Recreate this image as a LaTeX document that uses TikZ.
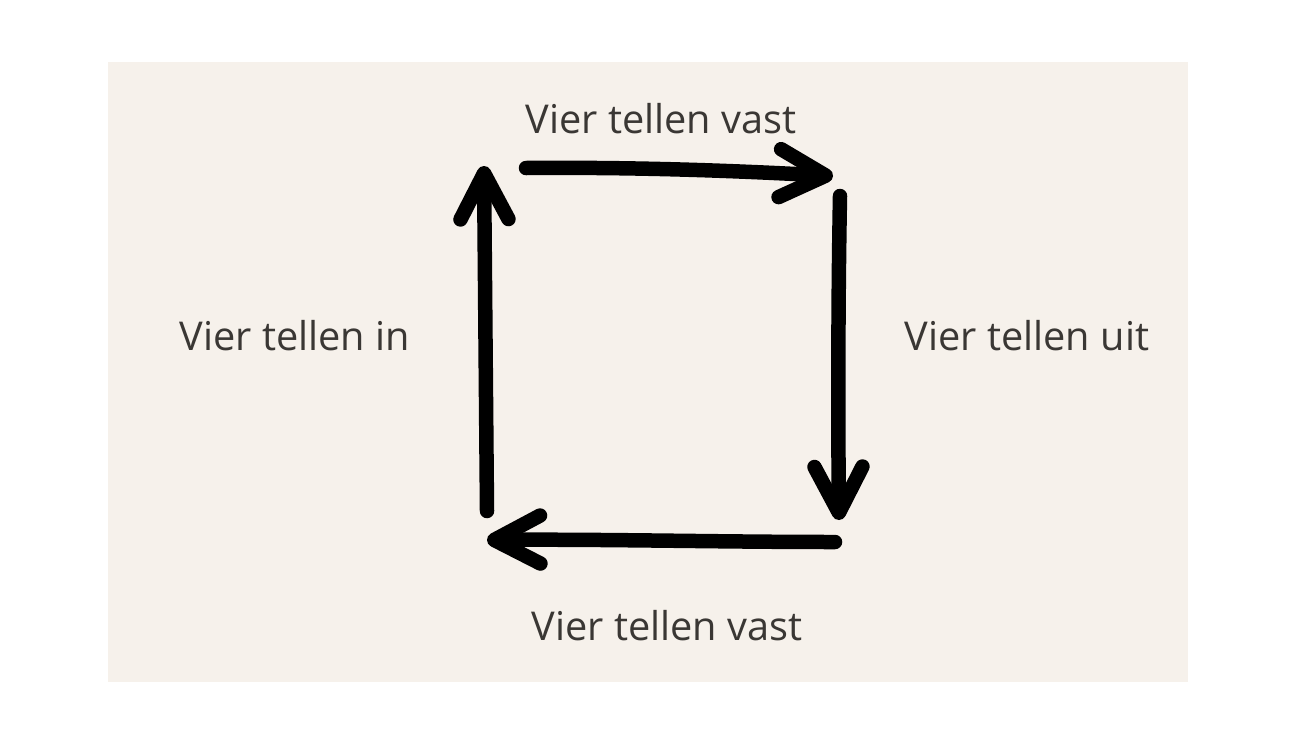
\documentclass[tikz,border=0pt]{standalone}
\usepackage{fontspec}
\setmainfont{Open Sans}
\usetikzlibrary{arrows.meta}
\definecolor{bg}{HTML}{F6F1EB}
\definecolor{txt}{HTML}{3A3734}
\tikzset{
  lbl/.style={anchor=base, inner sep=0pt, text=txt, font=\fontsize{39.7}{46}\selectfont},
  flow/.style={line width=14.5pt, line cap=round, line join=round,
    -{Straight Barb[length=46pt,width=48pt,round]}},
}
\begin{document}
\begin{tikzpicture}[x=1pt,y=-1pt]
\useasboundingbox (0,0) rectangle (1296,745);
\fill[bg] (108,62) rectangle (1188,682);
% labels
\node[lbl] (top) at (661,133) {Vier tellen vast};
\node[lbl] (bot) at (667,640) {Vier tellen vast};
\node[lbl] (left) at (295,350) {Vier tellen in};
\node[lbl] (right) at (1027,350) {Vier tellen uit};
% arrow end points
\coordinate (t1) at (526,168);
\coordinate (t2) at (833,176);
\coordinate (r1) at (840,196);
\coordinate (r2) at (839,520);
\coordinate (b1) at (835,542);
\coordinate (b2) at (487,540);
\coordinate (l1) at (487,511);
\coordinate (l2) at (484,166);
\draw[flow] (t1) .. controls (640,167) and (740,171) .. (t2);
\draw[flow] (r1) .. controls (838,300) and (838,420) .. (r2);
\draw[flow] (b1) .. controls (720,542) and (600,539) .. (b2);
\draw[flow] (l1) .. controls (486,400) and (485,280) .. (l2);
\end{tikzpicture}
\end{document}
